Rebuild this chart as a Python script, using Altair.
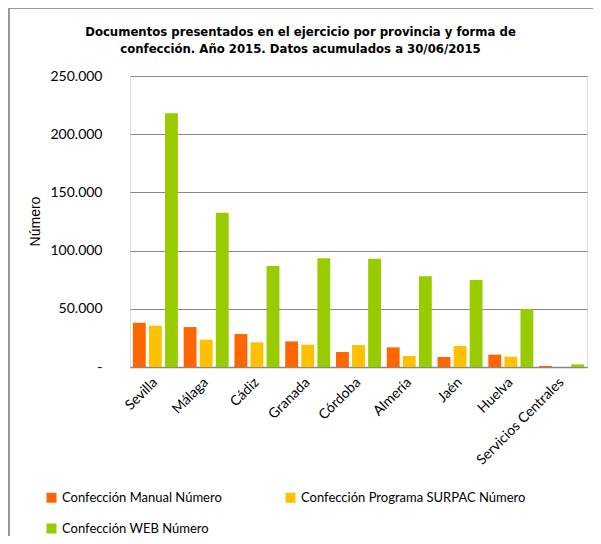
import altair as alt
import pandas as pd

provincias = ["Sevilla", "Málaga", "Cádiz", "Granada", "Córdoba", "Almería",
              "Jaén", "Huelva", "Servicios Centrales"]
series = ["Confección Manual Número", "Confección Programa SURPAC Número",
          "Confección WEB Número"]
manual = [38000, 34300, 28300, 22000, 12900, 16900, 8600, 10600, 900]
surpac = [35500, 23500, 21200, 19200, 18900, 9500, 18000, 8900, 0]
web = [218000, 132500, 86800, 93400, 93000, 77900, 74700, 49800, 2300]
colores = ["#FF6600", "#FFC000", "#99CC00"]
y_ticks = [0, 50000, 100000, 150000, 200000, 250000]

rows = []
for i, p in enumerate(provincias):
    for s, vals in zip(series, [manual, surpac, web]):
        rows.append({"Provincia": p, "Serie": s, "Valor": vals[i]})
df = pd.DataFrame(rows)

label_font = "Lato"

bars = alt.Chart(df).mark_bar().encode(
    x=alt.X("Provincia:N", sort=provincias, title=None,
            scale=alt.Scale(paddingInner=0.114, paddingOuter=0.057),
            axis=alt.Axis(labelAngle=-45, labelAlign="right", labelBaseline="middle",
                          labelPadding=13, ticks=False, domainColor="#888888",
                          domainWidth=1.5, labelFont=label_font, labelFontSize=14,
                          labelColor="#000000")),
    xOffset=alt.XOffset("Serie:N", sort=series, scale=alt.Scale(paddingInner=0.2)),
    y=alt.Y("Valor:Q", title="Número",
            scale=alt.Scale(domain=[0, 250000], nice=False),
            axis=alt.Axis(values=y_ticks, ticks=True, tickSize=20, tickColor="transparent",
                          domain=False,
                          labelExpr="datum.value == 0 ? '-' : replace(format(datum.value, ',.0f'), ',', '.')",
                          labelPadding=8, labelFont=label_font, labelFontSize=14,
                          labelColor="#000000", gridColor="#888888", gridWidth=1,
                          titleFont="Liberation Sans", titleFontSize=14,
                          titleFontWeight="normal", titleColor="#000000",
                          titleX=-95, titleY=145, titleAngle=-90,
                          titleAlign="center", titleBaseline="middle")),
    color=alt.Color("Serie:N", sort=series,
                    scale=alt.Scale(domain=series, range=colores),
                    legend=alt.Legend(title=None, orient="none", legendX=-85, legendY=415,
                                      direction="horizontal",
                                      columns=2, columnPadding=62, rowPadding=17,
                                      symbolType="square", symbolSize=100,
                                      symbolStrokeWidth=0, labelFont=label_font,
                                      labelFontSize=13, labelColor="#000000",
                                      labelOffset=4, labelLimit=400)),
)

frame_top = alt.Chart(df).mark_rule(color="#999999", strokeWidth=1.5).encode(
    x=alt.value(-122), x2=alt.value(480), y=alt.value(-68.5))
frame_left = alt.Chart(df).mark_rule(color="#999999", strokeWidth=1.5).encode(
    x=alt.value(-121.5), y=alt.value(-68), y2=alt.value(480))

chart = alt.layer(bars, frame_top, frame_left).properties(
    width=457, height=291,
    autosize="none",
    padding={"left": 122, "top": 68, "right": 6, "bottom": 169},
    title=alt.TitleParams(
        text=["Documentos presentados en el ejercicio por provincia y forma de",
              "confección. Año 2015. Datos acumulados a 30/06/2015"],
        font="Liberation Sans Narrow, DejaVu Sans Condensed, sans-serif",
        fontSize=13, fontWeight="bold", color="#000000",
        anchor="middle", frame="group", dx=-58, offset=-49, lineHeight=17),
).configure_view(stroke=None).configure(background="white")

chart.save("out.html", embed_options={"renderer": "svg", "actions": False})
